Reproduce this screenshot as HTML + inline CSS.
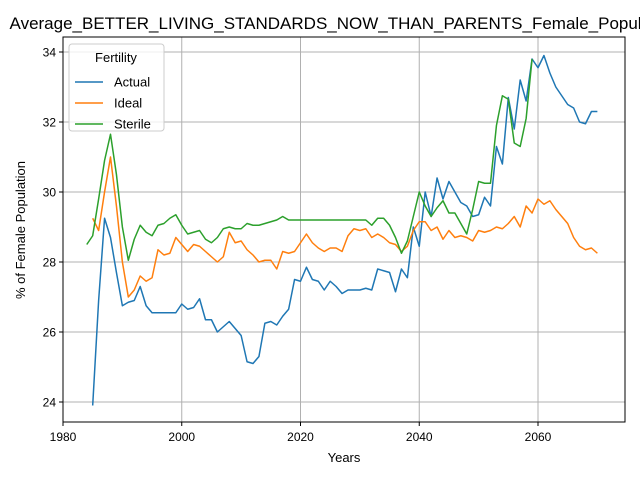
<!DOCTYPE html>
<html><head><meta charset="utf-8"><style>
body{margin:0;background:#fff;}
svg{display:block;font-family:"Liberation Sans","DejaVu Sans",sans-serif;}
</style></head><body>
<svg id="chart" width="640" height="480" viewBox="0 0 640 480" xmlns="http://www.w3.org/2000/svg">
<rect width="640" height="480" fill="#fff"/>
<g id="grid"></g>
<g id="lines"></g>
<rect x="63" y="37" width="562" height="385" fill="none" stroke="#000" stroke-width="1"/>
<g id="ticks"></g>
<text x="344" y="29" font-size="17" text-anchor="middle">Average_BETTER_LIVING_STANDARDS_NOW_THAN_PARENTS_Female_Population</text>
<text x="344" y="462" font-size="13" text-anchor="middle">Years</text>
<text x="25" y="230" font-size="13" text-anchor="middle" transform="rotate(-90 25 230)">% of Female Population</text>
<g id="legend">
<rect x="69" y="44" width="95" height="87" rx="3" fill="#fff" fill-opacity="0.8" stroke="#ccc"/>
<text x="116" y="62" font-size="13" text-anchor="middle">Fertility</text>
</g>
</svg>
<script>
const years = [];
for (let y = 1984; y <= 2070; y++) years.push(y);
const actual = [null,23.9,26.9,29.25,28.7,27.7,26.75,26.85,26.9,27.3,26.75,26.55,26.55,26.55,26.55,26.55,26.8,26.65,26.7,26.95,26.35,26.35,26.0,26.15,26.3,26.1,25.9,25.15,25.1,25.3,26.25,26.3,26.2,26.45,26.65,27.5,27.45,27.85,27.5,27.45,27.2,27.45,27.3,27.1,27.2,27.2,27.2,27.25,27.2,27.8,27.75,27.7,27.15,27.8,27.55,29.0,28.45,30.0,29.3,30.4,29.8,30.3,30.0,29.7,29.6,29.3,29.35,29.85,29.6,31.3,30.8,32.7,31.8,33.2,32.6,33.8,33.55,33.9,33.4,33.0,32.75,32.5,32.4,32.0,31.95,32.3,32.3];
const ideal = [null,29.25,28.9,30.0,31.0,29.6,28.0,27.0,27.2,27.6,27.45,27.55,28.35,28.2,28.25,28.7,28.5,28.3,28.5,28.45,28.3,28.15,28.0,28.15,28.85,28.55,28.6,28.35,28.2,28.0,28.05,28.05,27.8,28.3,28.25,28.3,28.55,28.8,28.55,28.4,28.3,28.4,28.4,28.3,28.75,28.95,28.9,28.95,28.7,28.8,28.7,28.55,28.5,28.3,28.45,28.9,29.15,29.15,28.9,29.0,28.65,28.9,28.7,28.75,28.7,28.6,28.9,28.85,28.9,29.0,28.95,29.1,29.3,29.0,29.6,29.4,29.8,29.65,29.75,29.5,29.3,29.1,28.7,28.45,28.35,28.4,28.25];
const sterile = [28.5,28.75,29.8,30.9,31.65,30.5,29.0,28.05,28.65,29.05,28.85,28.75,29.05,29.1,29.25,29.35,29.05,28.8,28.85,28.9,28.65,28.55,28.7,28.95,29.0,28.95,28.95,29.1,29.05,29.05,29.1,29.15,29.2,29.3,29.2,29.2,29.2,29.2,29.2,29.2,29.2,29.2,29.2,29.2,29.2,29.2,29.2,29.2,29.05,29.25,29.25,29.05,28.7,28.25,28.6,29.3,30.0,29.6,29.3,29.55,29.75,29.4,29.4,29.1,28.8,29.5,30.3,30.25,30.25,31.9,32.75,32.65,31.4,31.3,32.1,33.8];
const xTicks = [1980,2000,2020,2040,2060];
const yTicks = [24,26,28,30,32,34];
const seriesNames = ["Actual","Ideal","Sterile"];
const colors = ["#1f77b4","#ff7f0e","#2ca02c"];

const NS = "http://www.w3.org/2000/svg";
const X = v => 63 + (v - 1980) * 5.9375;
const Y = v => 52 + (34 - v) * 35;
function mk(tag, attrs, parent){const e=document.createElementNS(NS,tag);for(const k in attrs)e.setAttribute(k,attrs[k]);parent.appendChild(e);return e;}
const grid=document.getElementById('grid'), ticks=document.getElementById('ticks'), lines=document.getElementById('lines'), legend=document.getElementById('legend');
xTicks.forEach(t=>{
  const g=mk('line',{x1:X(t),x2:X(t),y1:37,y2:422,stroke:'#b0b0b0','stroke-width':1},grid);
  
  
  mk('line',{x1:X(t),x2:X(t),y1:422,y2:426,stroke:'#000'},ticks);
  const tx=mk('text',{x:X(t),y:441,'font-size':12,'text-anchor':'middle'},ticks);
  tx.textContent=t;
  
  
});
yTicks.forEach(t=>{
  const g=mk('line',{x1:63,x2:625,y1:Y(t),y2:Y(t),stroke:'#b0b0b0','stroke-width':1},grid);
  
  
  mk('line',{x1:59,x2:63,y1:Y(t),y2:Y(t),stroke:'#000'},ticks);
  const tx=mk('text',{x:56,y:Y(t)+4.5,'font-size':12,'text-anchor':'end'},ticks);
  tx.textContent=t;
  
  
});
[actual,ideal,sterile].forEach((arr,i)=>{
  let d='';let pen=false;
  arr.forEach((v,j)=>{ if(v==null){pen=false;return;} d+=(pen?'L':'M')+X(years[j]).toFixed(2)+','+Y(v).toFixed(2); pen=true;});
  const p=mk('path',{d:d,fill:'none',stroke:colors[i],'stroke-width':1.5,'stroke-linejoin':'round'},lines);
  
  
  const ly=82+i*21;
  const ll=mk('line',{x1:75,x2:103,y1:ly,y2:ly,stroke:colors[i],'stroke-width':1.5},legend);
  
  
  const lt=mk('text',{x:114,y:ly+4.5,'font-size':13},legend);
  lt.textContent=seriesNames[i];
  
  
});
</script>
</body></html>
